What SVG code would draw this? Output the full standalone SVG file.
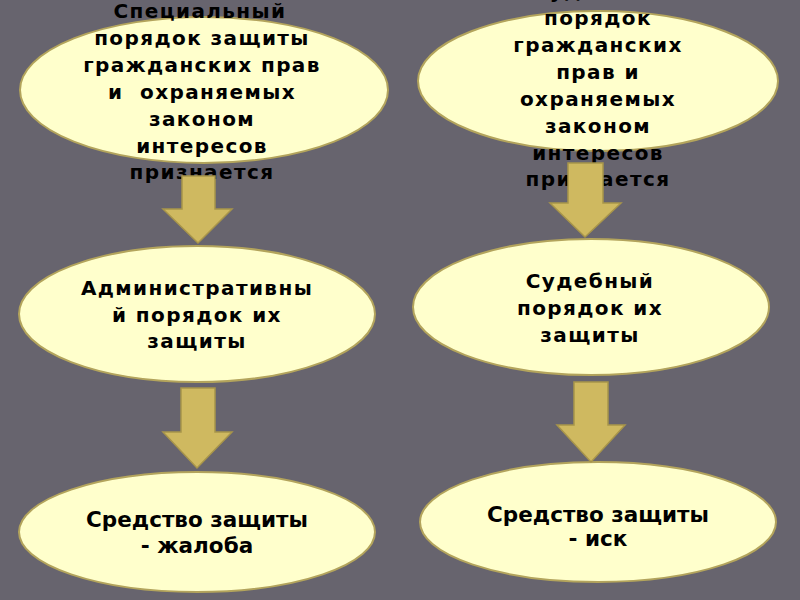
<svg xmlns="http://www.w3.org/2000/svg" width="800" height="600" viewBox="0 0 800 600">
<style>
.bg{fill:#67646e}
.node ellipse{fill:#ffffcc;stroke:#b3a45c;stroke-width:2}
.t{font-family:"DejaVu Sans",sans-serif;font-weight:bold;font-size:20px;letter-spacing:1.4px;fill:#000;text-anchor:middle}
.c{font-family:"DejaVu Sans",sans-serif;font-weight:bold;font-size:21.5px;fill:#000;text-anchor:middle}
.arrow{fill:#cfb960;stroke:#a8954a;stroke-width:1.5}
</style>
<rect class="bg" x="0" y="0" width="800" height="600"/>
<g id="n1" class="node">
<ellipse cx="204" cy="90" rx="184" ry="73"/>
<text class="t"><tspan x="200" y="18">Специальный</tspan><tspan x="202" y="45">порядок защиты</tspan><tspan x="202" y="72">гражданских прав</tspan><tspan x="202" y="99">и&#160; охраняемых</tspan><tspan x="202" y="126">законом</tspan><tspan x="202" y="153">интересов</tspan><tspan x="202" y="179">признается</tspan></text>
</g>
<g id="n2" class="node">
<ellipse cx="598" cy="81" rx="180" ry="70"/>
<text class="t"><tspan x="598" y="-2">Судебный</tspan><tspan x="598" y="25">порядок</tspan><tspan x="598" y="52">гражданских</tspan><tspan x="598" y="79">прав и</tspan><tspan x="598" y="106">охраняемых</tspan><tspan x="598" y="133">законом</tspan><tspan x="598" y="160">интересов</tspan><tspan x="598" y="186">признается</tspan></text>
</g>
<g id="n3" class="node">
<ellipse cx="197" cy="314" rx="178" ry="68"/>
<text class="t"><tspan x="197" y="295">Административны</tspan><tspan x="197" y="322">й порядок их</tspan><tspan x="197" y="348">защиты</tspan></text>
</g>
<g id="n4" class="node">
<ellipse cx="591" cy="307" rx="178" ry="68"/>
<text class="t"><tspan x="590" y="288">Судебный</tspan><tspan x="590" y="315">порядок их</tspan><tspan x="590" y="342">защиты</tspan></text>
</g>
<g id="n5" class="node">
<ellipse cx="197" cy="532" rx="178" ry="60"/>
<text class="c"><tspan x="197" y="527">Средство защиты</tspan><tspan x="197" y="553">- жалоба</tspan></text>
</g>
<g id="n6" class="node">
<ellipse cx="598" cy="522" rx="178" ry="60"/>
<text class="c"><tspan x="598" y="522">Средство защиты</tspan><tspan x="598" y="546">- иск</tspan></text>
</g>
<g id="connectors">
<path class="arrow" d="M182,176 H215 V209 H232 L198,243 L163,209 H182 Z"/>
<path class="arrow" d="M568,163 H603 V203 H621 L585,237 L550,203 H568 Z"/>
<path class="arrow" d="M181,388 H215 V432 H232 L197,468 L163,432 H181 Z"/>
<path class="arrow" d="M574,382 H608 V425 H625 L591,462 L557,425 H574 Z"/>
</g>
</svg>
